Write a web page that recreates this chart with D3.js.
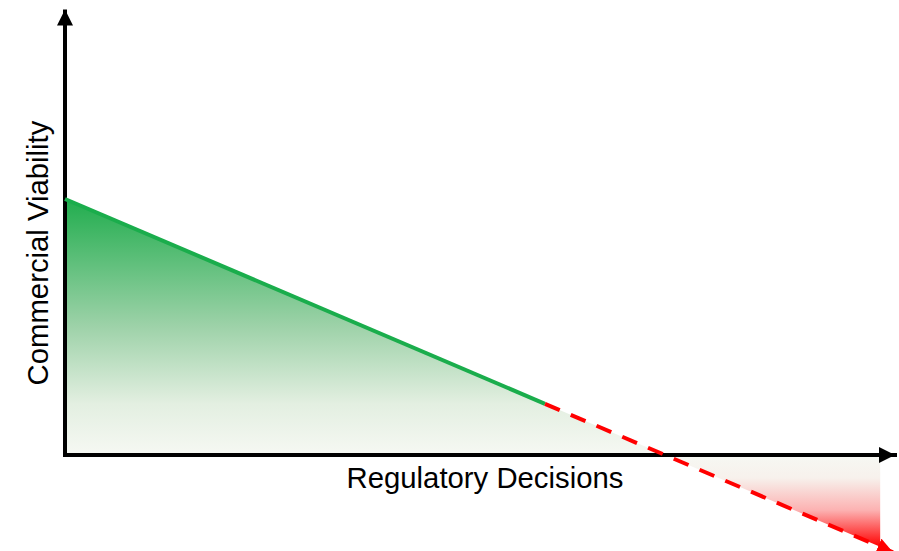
<!DOCTYPE html>
<html>
<head>
<meta charset="utf-8">
<script src="https://cdn.jsdelivr.net/npm/d3@7"></script>
<style>
  html, body { margin: 0; padding: 0; background: #fff; }
  svg { display: block; }
</style>
</head>
<body>
<div id="chart"></div>
<script>
// Conceptual trend: commercial viability falls as regulatory decisions accumulate
const solidTrend = [ { decisions: 0, viability: 100 }, { decisions: 6, viability: 20 } ];
const projectedTrend = [ { decisions: 6, viability: 20 }, { decisions: 10.35, viability: -38 } ];
const fillEnd = 10.19;           // right edge of the shaded region
const axisEnd = { decisions: 10.375, viability: 174 };
const xTitle = "Regulatory Decisions";
const yTitle = "Commercial Viability";

const width = 899, height = 551;
const svg = d3.select("#chart").append("svg")
  .attr("width", width).attr("height", height)
  .style("font-family", "'Liberation Sans', Arial, sans-serif");

const x = d3.scaleLinear().domain([0, 10]).range([65, 865]);
const y = d3.scaleLinear().domain([0, 100]).range([455, 199]);

const slope = (solidTrend[1].viability - solidTrend[0].viability) / (solidTrend[1].decisions - solidTrend[0].decisions);
const lineAt = d => solidTrend[0].viability + slope * d;
const zeroCross = -solidTrend[0].viability / slope;

const defs = svg.append("defs");
const gGreen = defs.append("linearGradient").attr("id", "gGreen")
  .attr("gradientUnits", "userSpaceOnUse")
  .attr("x1", 0).attr("x2", 0).attr("y1", y(100)).attr("y2", y(0));
[[0, "#21ad4e"], [0.5, "#9ed2a9"], [0.8, "#e3efe1"], [1, "#f6f8f3"]].forEach(([o, c]) =>
  gGreen.append("stop").attr("offset", o).attr("stop-color", c));

const gRed = defs.append("linearGradient").attr("id", "gRed")
  .attr("gradientUnits", "userSpaceOnUse")
  .attr("x1", 0).attr("x2", 0).attr("y1", y(0)).attr("y2", y(lineAt(fillEnd)));
[[0, "#f6f8f3"], [0.25, "#f7f1ec"], [0.6, "#fcb2b2"], [1, "#ff0000"]].forEach(([o, c]) =>
  gRed.append("stop").attr("offset", o).attr("stop-color", c));

const marker = (id, color) => defs.append("marker").attr("id", id)
  .attr("viewBox", "0 0 10 10").attr("refX", 10).attr("refY", 5)
  .attr("markerUnits", "userSpaceOnUse")
  .attr("markerWidth", 16).attr("markerHeight", 16).attr("orient", "auto")
  .append("path").attr("d", "M0,0 L10,5 L0,10 Z").attr("fill", color);
marker("arrowBlack", "#000");
marker("arrowRed", "#ff0000");

const area = d3.area().x(d => x(d.decisions)).y0(y(0)).y1(d => y(d.viability));

// positive (green) region
svg.append("path")
  .datum([{ decisions: 0, viability: lineAt(0) }, { decisions: zeroCross, viability: 0 }])
  .attr("d", area).attr("fill", "url(#gGreen)");

// negative (red) region
svg.append("path")
  .datum([{ decisions: zeroCross, viability: 0 }, { decisions: fillEnd, viability: lineAt(fillEnd) }])
  .attr("d", area).attr("fill", "url(#gRed)");

const line = d3.line().x(d => x(d.decisions)).y(d => y(d.viability));

// axes
svg.append("path").datum([{ decisions: 0, viability: 0 }, { decisions: 0, viability: axisEnd.viability }])
  .attr("d", line).attr("stroke", "#000").attr("stroke-width", 4).attr("fill", "none")
  .attr("marker-end", "url(#arrowBlack)");
svg.append("path").datum([{ decisions: 0, viability: 0 }, { decisions: axisEnd.decisions, viability: 0 }])
  .attr("d", line).attr("stroke", "#000").attr("stroke-width", 4).attr("fill", "none")
  .attr("stroke-linecap", "square")
  .attr("marker-end", "url(#arrowBlack)");

// trend lines
svg.append("path").datum(solidTrend).attr("d", line)
  .attr("stroke", "#1aad4c").attr("stroke-width", 4).attr("fill", "none");
svg.append("path").datum(projectedTrend).attr("d", line)
  .attr("stroke", "#ff0000").attr("stroke-width", 4).attr("fill", "none")
  .attr("stroke-dasharray", "16,12")
  .attr("marker-end", "url(#arrowRed)");

// titles
svg.append("text").attr("x", 485).attr("y", 488)
  .attr("text-anchor", "middle").attr("font-size", 29.3).attr("fill", "#000").text(xTitle);
svg.append("text").attr("transform", "translate(48,253) rotate(-90)")
  .attr("text-anchor", "middle").attr("font-size", 29.3).attr("fill", "#000").text(yTitle);
</script>
</body>
</html>
